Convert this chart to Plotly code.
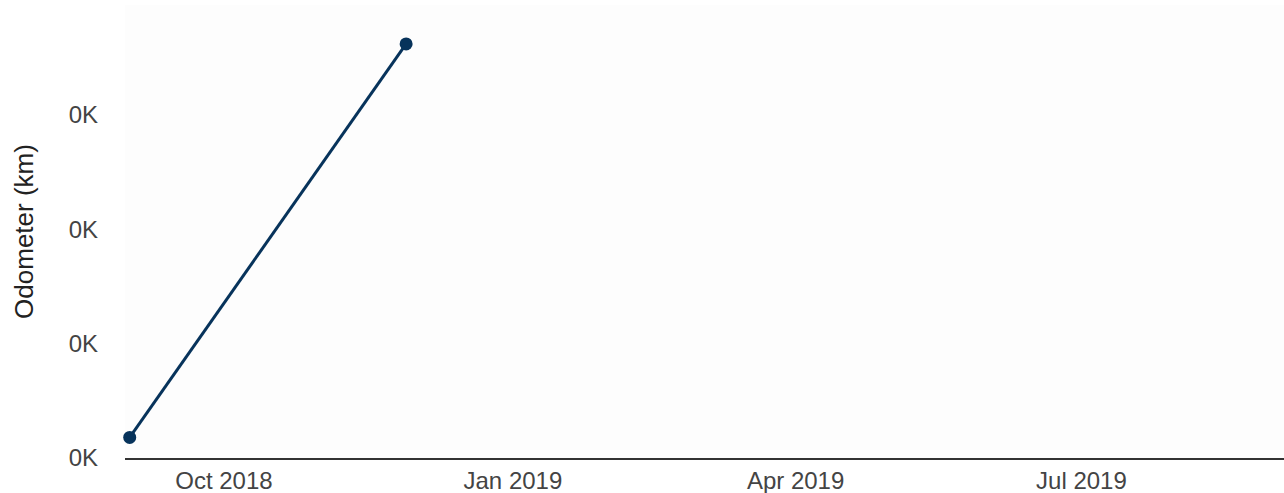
import plotly.graph_objects as go

dates = ["2018-09-01", "2018-11-28"]
odometer = [18, 362]
ytick_vals = [0, 100, 200, 300]
ytick_text = [f"{v/1000:.0f}K" for v in ytick_vals]
xtick_vals = ["2018-10-01", "2019-01-01", "2019-04-01", "2019-07-01"]
xtick_text = ["Oct 2018", "Jan 2019", "Apr 2019", "Jul 2019"]

fig = go.Figure()
fig.add_trace(go.Scatter(
    x=dates, y=odometer, mode="lines+markers",
    line=dict(color="#07335b", width=3),
    marker=dict(color="#07335b", size=13),
    showlegend=False, cliponaxis=False,
))

fig.update_layout(
    width=1284, height=493,
    margin=dict(l=125, r=0, t=5, b=35, autoexpand=False),
    paper_bgcolor="white", plot_bgcolor="#fdfdfd",
    font=dict(family="Liberation Sans, Arial, sans-serif", size=24, color="#444"),
    xaxis=dict(
        range=["2018-08-30 12:00", "2019-09-03 12:00"],
        tickvals=xtick_vals, ticktext=xtick_text,
        showgrid=False, zeroline=False,
        showline=True, linecolor="#333", linewidth=2,
        ticks="", tickfont=dict(size=24, color="#444"),
        automargin=False,
    ),
    yaxis=dict(
        range=[0, 396],
        tickvals=ytick_vals, ticktext=ytick_text,
        showgrid=False, zeroline=False, showline=False,
        ticks="", ticklabelstandoff=26,
        tickfont=dict(size=24, color="#444"),
        title=dict(text="Odometer (km)", font=dict(size=26, color="#222"), standoff=27),
        automargin=False,
    ),
)

fig.write_html("out.html", config={"displayModeBar": False},
               post_script="document.body.style.margin='0';")
